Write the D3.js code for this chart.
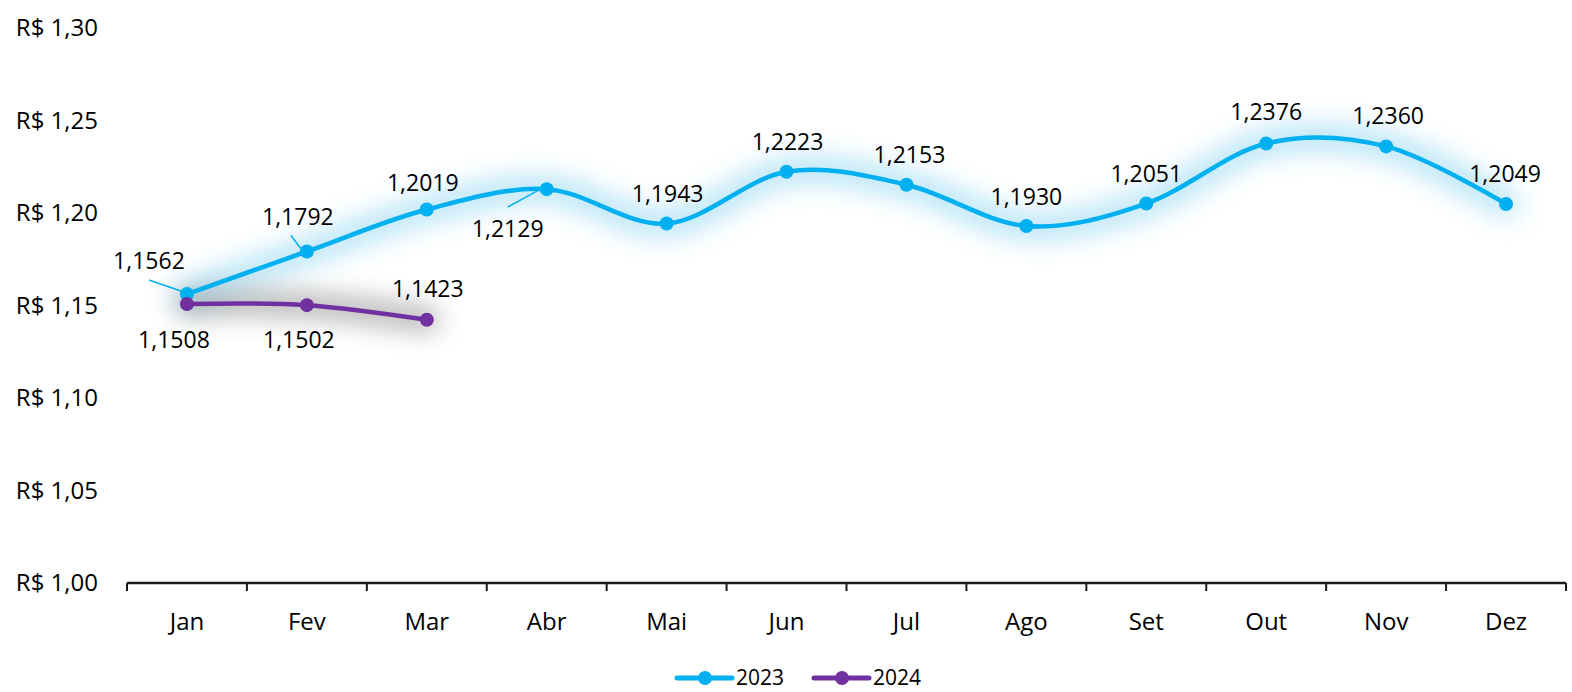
<!DOCTYPE html>
<html>
<head>
<meta charset="utf-8">
<script src="https://cdn.jsdelivr.net/npm/d3@7"></script>
<style>
  body { margin: 0; background: #fff; }
  text { font-family: "Open Sans", "Noto Sans", sans-serif; fill: #000; font-weight: 500; }
</style>
</head>
<body>
<svg id="chart" width="1572" height="692"></svg>
<script>
// Categories and series values
const months = ['Jan', 'Fev', 'Mar', 'Abr', 'Mai', 'Jun', 'Jul', 'Ago', 'Set', 'Out', 'Nov', 'Dez'];
const values2023 = [1.1562, 1.1792, 1.2019, 1.2129, 1.1943, 1.2223, 1.2153, 1.1930, 1.2051, 1.2376, 1.2360, 1.2049];
const values2024 = [1.1508, 1.1502, 1.1423];
const yTicks = [1.00, 1.05, 1.10, 1.15, 1.20, 1.25, 1.30];

// Label offsets (layout only) relative to the point: [dx, dy, leader?]
const labelPos2023 = [[-38, -33, true], [-9, -35, true], [-4, -27], [-39, 40, true], [1, -30], [1, -30], [3, -30], [0, -29], [0, -30], [0, -31], [2, -30], [-1, -30]];
const labelPos2024 = [[-13, 36], [-8, 35], [1, -31]];

const colors = {'2023': '#00B0F0', '2024': '#7030A0'};

const margin = {top: 28, right: 6, bottom: 109, left: 127};
const W = 1572, H = 692;
const width = W - margin.left - margin.right;
const height = H - margin.top - margin.bottom;

const svg = d3.select('#chart');

// Glow filters
const defs = svg.append('defs');
const glow = defs.append('filter').attr('id', 'glowBlue')
  .attr('x', '-10%').attr('y', '-70%').attr('width', '120%').attr('height', '240%');
glow.append('feGaussianBlur').attr('stdDeviation', 13);
const shadow = defs.append('filter').attr('id', 'glowGray')
  .attr('x', '-30%').attr('y', '-300%').attr('width', '160%').attr('height', '700%');
shadow.append('feGaussianBlur').attr('stdDeviation', 12);

const g = svg.append('g').attr('transform', `translate(${margin.left},${margin.top})`);

// Scales
const x = d3.scaleBand().domain(months).range([0, width]);
const y = d3.scaleLinear().domain([1.0, 1.3]).range([height, 0]);
const cx = m => x(m) + x.bandwidth() / 2;

const fmtNum = d => d.toFixed(4).replace('.', ',');
const fmtTick = d => 'R$ ' + d.toFixed(2).replace('.', ',');

// Y tick labels (no axis line)
g.append('g').selectAll('text')
  .data(yTicks)
  .enter().append('text')
  .attr('x', -29)
  .attr('y', d => y(d))
  .attr('dy', '0.35em')
  .attr('text-anchor', 'end')
  .style('font-size', '24px')
  .text(fmtTick);

// X axis
const xAxis = g.append('g')
  .attr('transform', `translate(0,${height})`);
xAxis.append('line')
  .attr('x1', 0).attr('x2', width)
  .attr('stroke', '#1a1a1a').attr('stroke-width', 2.5);
xAxis.selectAll('.tick-mark')
  .data(months.concat(['end']))
  .enter().append('line')
  .attr('class', 'tick-mark')
  .attr('x1', (d, i) => i * x.step()).attr('x2', (d, i) => i * x.step())
  .attr('y1', 0).attr('y2', 8)
  .attr('stroke', '#1a1a1a').attr('stroke-width', 2);
xAxis.selectAll('.tick-label')
  .data(months)
  .enter().append('text')
  .attr('class', 'tick-label')
  .attr('x', d => cx(d))
  .attr('y', 39)
  .attr('dy', '0.35em')
  .attr('text-anchor', 'middle')
  .style('font-size', '24px')
  .text(d => d);

// Line generator (Excel-like smoothing)
const line = d3.line()
  .x(d => cx(d.m))
  .y(d => y(d.v))
  .curve(d3.curveCardinal.tension(0));

const series = [
  {name: '2023', values: values2023.map((v, i) => ({m: months[i], v})), pos: labelPos2023, filter: 'url(#glowBlue)', glowColor: '#8fd6f2', glowOpacity: 0.65},
  {name: '2024', values: values2024.map((v, i) => ({m: months[i], v})), pos: labelPos2024, filter: 'url(#glowGray)', glowColor: '#666', glowOpacity: 0.45}
];

// Glows first
series.forEach(s => {
  g.append('path')
    .attr('d', line(s.values))
    .attr('fill', 'none')
    .attr('stroke', s.glowColor)
    .attr('stroke-width', 26)
    .attr('stroke-linecap', 'round')
    .attr('opacity', s.glowOpacity)
    .attr('filter', s.filter);
});

// Lines and markers
series.forEach(s => {
  g.append('path')
    .attr('d', line(s.values))
    .attr('fill', 'none')
    .attr('stroke', colors[s.name])
    .attr('stroke-width', 4.5)
    .attr('stroke-linecap', 'round');

  g.selectAll('.pt-' + s.name)
    .data(s.values)
    .enter().append('circle')
    .attr('cx', d => cx(d.m))
    .attr('cy', d => y(d.v))
    .attr('r', 7)
    .attr('fill', colors[s.name]);
});

// Data labels and leader lines
series.forEach(s => {
  s.values.forEach((d, i) => {
    const [dx, dy, leader] = s.pos[i];
    const px = cx(d.m), py = y(d.v);
    const lx = px + dx, ly = py + dy;
    if (leader) {
      let x1, y1, x2, y2;
      if (dy < 0) {
        x1 = lx + (dx < -20 ? 0 : -7); y1 = ly + 19;
        x2 = px - 6; y2 = py - 3;
      } else {
        x1 = lx; y1 = ly - 22;
        x2 = px - 8; y2 = py + 1;
      }
      g.append('line')
        .attr('x1', x1).attr('y1', y1)
        .attr('x2', x2).attr('y2', y2)
        .attr('stroke', colors[s.name]).attr('stroke-width', 1.5);
    }
    g.append('text')
      .attr('x', lx).attr('y', ly)
      .attr('dy', '0.35em')
      .attr('text-anchor', 'middle')
      .style('font-size', '23px')
      .text(fmtNum(d.v));
  });
});

// Legend
const legend = svg.append('g').attr('transform', 'translate(0,678)');
const legendItems = [{name: '2023', x: 677}, {name: '2024', x: 814}];
legendItems.forEach(it => {
  legend.append('line')
    .attr('x1', it.x).attr('x2', it.x + 55)
    .attr('stroke', colors[it.name]).attr('stroke-width', 5)
    .attr('stroke-linecap', 'round');
  legend.append('circle')
    .attr('cx', it.x + 28).attr('r', 7)
    .attr('fill', colors[it.name]);
  legend.append('text')
    .attr('x', it.x + 59)
    .attr('dy', '0.35em')
    .style('font-size', '21px')
    .text(it.name);
});
</script>
</body>
</html>
